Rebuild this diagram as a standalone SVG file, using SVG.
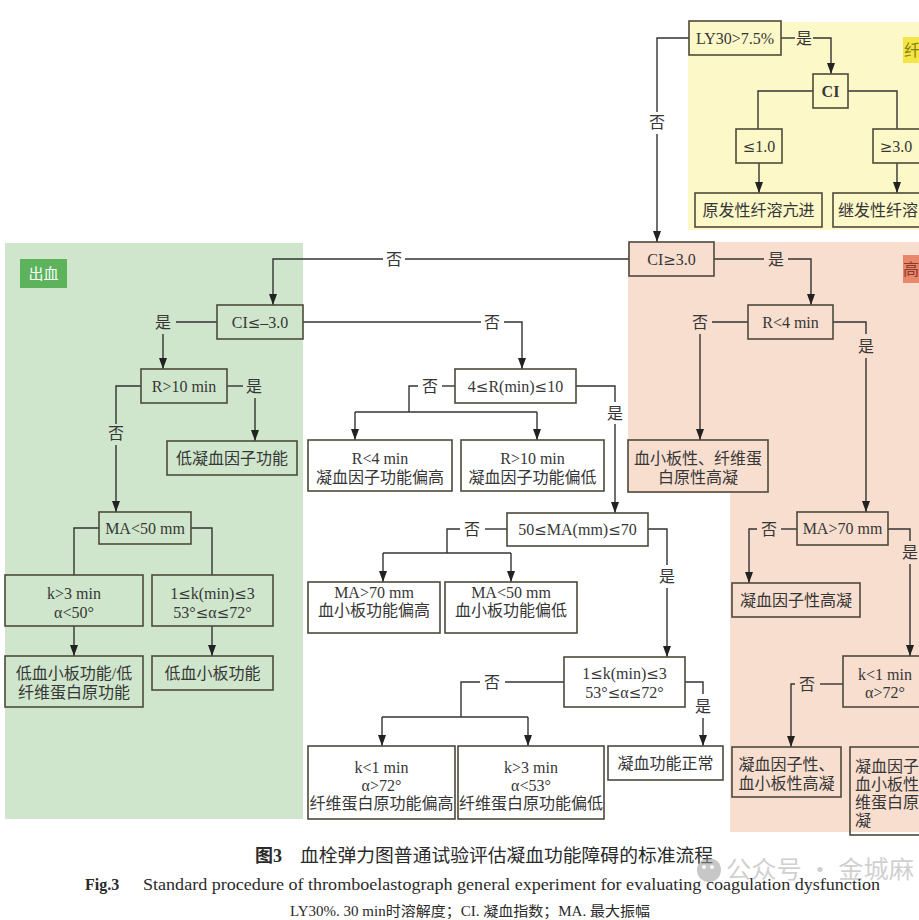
<svg xmlns="http://www.w3.org/2000/svg" width="919" height="920" viewBox="0 0 919 920">
<defs>
<marker id="arr" viewBox="0 0 11 8" refX="11" refY="4" markerWidth="11" markerHeight="8" markerUnits="userSpaceOnUse" orient="auto"><path d="M0,0 L11,4 L0,8 z" fill="#222"/></marker>
<style>
.box{fill:none;stroke:#4d4a3c;stroke-width:1.6}
.t{font-family:"Liberation Serif","Noto Sans CJK SC",serif;font-size:16px;fill:#363636;text-anchor:middle}
.tl{font-family:"Liberation Serif","Noto Sans CJK SC",serif;font-size:16px;fill:#363636}
.lb{font-family:"Liberation Serif","Noto Sans CJK SC",serif;font-size:16px;fill:#363636;text-anchor:middle}
.m{font-family:"DejaVu Serif",serif;font-size:15px}
.c{fill:none;stroke:#333;stroke-width:1.4}
.a{marker-end:url(#arr)}
.cap{font-family:"Liberation Serif","Noto Sans CJK SC",serif;fill:#2a2a2a}
</style>
</defs>
<rect width="919" height="920" fill="#ffffff"/>
<g id="regions">
<rect x="688" y="22" width="231" height="208" fill="#fcf8c8"/>
<rect x="903" y="37" width="40" height="26" fill="#f3e545"/>
<text x="904" y="56" class="tl" style="fill:#8a7d10">纤</text>
<rect x="5" y="243" width="298" height="576" fill="#cfe6cc"/>
<rect x="20" y="259" width="47" height="29" fill="#5cb35c"/>
<text x="43.5" y="279" class="t" style="fill:#ffffff;font-size:15px">出血</text>
<path d="M628,242 H919 V832 H730 V493 H628 Z" fill="#f8decf"/>
<rect x="903" y="255" width="40" height="28" fill="#e8876c"/>
<text x="903" y="275" class="tl" style="fill:#8a3a28">高</text>
</g>
<g id="connectors">
<path class="c" d="M689,38 H657 V112"/>
<path class="c a" d="M657,134 V242"/>
<path class="c" d="M781,38 H795"/>
<path class="c a" d="M813,38 H831 V74"/>
<path class="c" d="M813,91 H758 V129"/>
<path class="c" d="M848,91 H897 V129"/>
<path class="c a" d="M759,163 V193"/>
<path class="c a" d="M897,163 V193"/>
<path class="c" d="M629,259 H405"/>
<path class="c a" d="M383,259 H273 V305"/>
<path class="c" d="M714,259 H764"/>
<path class="c a" d="M788,259 H811 V305"/>
<path class="c" d="M217,322 H176"/>
<path class="c a" d="M163,334 V369"/>
<path class="c" d="M303,322 H481"/>
<path class="c a" d="M504,322 H522 V369"/>
<path class="c" d="M227,386 H243"/>
<path class="c a" d="M255,398 V441"/>
<path class="c" d="M141,386 H116 V424"/>
<path class="c a" d="M116,445 V512"/>
<path class="c" d="M455,386 H442"/>
<path class="c" d="M418,386 H409 V412"/>
<path class="c" d="M355,412 H537"/>
<path class="c a" d="M355,412 V440"/>
<path class="c a" d="M537,412 V440"/>
<path class="c" d="M576,386 H615 V402"/>
<path class="c a" d="M615,424 V513"/>
<path class="c" d="M748,322 H712"/>
<path class="c a" d="M700,334 V440"/>
<path class="c" d="M833,322 H866 V334"/>
<path class="c a" d="M866,358 V512"/>
<path class="c" d="M507,529 H485"/>
<path class="c" d="M460,529 H447 V553"/>
<path class="c" d="M383,553 H511"/>
<path class="c a" d="M383,553 V582"/>
<path class="c a" d="M511,553 V582"/>
<path class="c" d="M648,529 H667 V565"/>
<path class="c a" d="M667,588 V657"/>
<path class="c" d="M99,528 H74 V575"/>
<path class="c" d="M191,528 H212 V575"/>
<path class="c a" d="M74,626 V656"/>
<path class="c a" d="M212,626 V656"/>
<path class="c" d="M564,682 H505"/>
<path class="c" d="M480,682 H461 V717"/>
<path class="c" d="M382,717 H528"/>
<path class="c a" d="M382,717 V746"/>
<path class="c a" d="M528,717 V746"/>
<path class="c" d="M685,682 H703 V694"/>
<path class="c a" d="M703,718 V746"/>
<path class="c" d="M797,529 H781"/>
<path class="c a" d="M757,529 H749 V583"/>
<path class="c" d="M888,529 H910 V541"/>
<path class="c a" d="M910,564 V656"/>
<path class="c" d="M843,684 H820"/>
<path class="c a" d="M795,684 H791 V747"/>
<text class="lb" x="657" y="128">否</text>
<text class="lb" x="804" y="44">是</text>
<text class="lb" x="394" y="265">否</text>
<text class="lb" x="776" y="265">是</text>
<text class="lb" x="163" y="328">是</text>
<text class="lb" x="492" y="328">否</text>
<text class="lb" x="254" y="392">是</text>
<text class="lb" x="116" y="439">否</text>
<text class="lb" x="430" y="392">否</text>
<text class="lb" x="615" y="419">是</text>
<text class="lb" x="700" y="328">否</text>
<text class="lb" x="866" y="352">是</text>
<text class="lb" x="472" y="535">否</text>
<text class="lb" x="667" y="582">是</text>
<text class="lb" x="492" y="688">否</text>
<text class="lb" x="703" y="712">是</text>
<text class="lb" x="769" y="535">否</text>
<text class="lb" x="910" y="558">是</text>
<text class="lb" x="807" y="690">否</text>
</g>
<g id="n1"><rect class="box" x="689" y="21" width="92" height="34"/><text class="t" x="735" y="43.5">LY30&gt;7.5%</text></g>
<g id="n2"><rect class="box" x="813" y="74" width="35" height="34"/><text class="t" x="830.5" y="96.5" font-weight="bold">CI</text></g>
<g id="n3"><rect class="box" x="736" y="129" width="46" height="34"/><text class="t" x="759" y="151.5"><tspan class="m">≤</tspan>1.0</text></g>
<g id="n4"><rect class="box" x="873" y="129" width="49" height="34"/><text class="t" x="896" y="151.5"><tspan class="m">≥</tspan>3.0</text></g>
<g id="n5"><rect class="box" x="695" y="193" width="127" height="34"/><text class="t" x="758.5" y="215.5">原发性纤溶亢进</text></g>
<g id="n6"><rect class="box" x="833" y="193" width="125" height="34"/><text class="tl" x="838" y="215.5">继发性纤溶</text></g>
<g id="n7"><rect class="box" x="629" y="242" width="85" height="34"/><text class="t" x="671.5" y="264.5">CI<tspan class="m">≥</tspan>3.0</text></g>
<g id="n8"><rect class="box" x="217" y="305" width="86" height="34"/><text class="t" x="260" y="327.5">CI<tspan class="m">≤</tspan>–3.0</text></g>
<g id="n9"><rect class="box" x="141" y="369" width="86" height="34"/><text class="t" x="184" y="391.5">R&gt;10 min</text></g>
<g id="n10"><rect class="box" x="167" y="441" width="130" height="34"/><text class="t" x="232" y="463.5">低凝血因子功能</text></g>
<g id="n11"><rect class="box" x="455" y="369" width="121" height="34"/><text class="t" x="515.5" y="391.5">4<tspan class="m">≤</tspan>R(min)<tspan class="m">≤</tspan>10</text></g>
<g id="n12"><rect class="box" x="308" y="440" width="144" height="51"/><text class="t" x="380" y="463.5">R&lt;4 min</text><text class="t" x="380" y="482.5">凝血因子功能偏高</text></g>
<g id="n13"><rect class="box" x="461" y="440" width="143" height="51"/><text class="t" x="532.5" y="463.5">R&gt;10 min</text><text class="t" x="532.5" y="482.5">凝血因子功能偏低</text></g>
<g id="n14"><rect class="box" x="748" y="305" width="85" height="34"/><text class="t" x="790.5" y="327.5">R&lt;4 min</text></g>
<g id="n15"><rect class="box" x="628" y="440" width="140" height="52"/><text class="t" x="698" y="463.5">血小板性、纤维蛋</text><text class="t" x="698" y="482.5">白原性高凝</text></g>
<g id="n16"><rect class="box" x="507" y="513" width="141" height="33"/><text class="t" x="577.5" y="535">50<tspan class="m">≤</tspan>MA(mm)<tspan class="m">≤</tspan>70</text></g>
<g id="n17"><rect class="box" x="308" y="582" width="132" height="51"/><text class="t" x="374" y="598">MA&gt;70 mm</text><text class="t" x="374" y="616">血小板功能偏高</text></g>
<g id="n18"><rect class="box" x="445" y="582" width="132" height="51"/><text class="t" x="511" y="598">MA&lt;50 mm</text><text class="t" x="511" y="616">血小板功能偏低</text></g>
<g id="n19"><rect class="box" x="797" y="512" width="91" height="33"/><text class="t" x="842.5" y="534">MA&gt;70 mm</text></g>
<g id="n20"><rect class="box" x="732" y="583" width="128" height="34"/><text class="t" x="796" y="605.5">凝血因子性高凝</text></g>
<g id="n21"><rect class="box" x="843" y="656" width="84" height="51"/><text class="t" x="885" y="679.5">k&lt;1 min</text><text class="t" x="885" y="697.5">α&gt;72°</text></g>
<g id="n22"><rect class="box" x="732" y="747" width="109" height="50"/><text class="t" x="786.5" y="769.5">凝血因子性、</text><text class="t" x="786.5" y="788.5">血小板性高凝</text></g>
<g id="n23"><rect class="box" x="850" y="747" width="100" height="88"/><text class="tl" x="855" y="772">凝血因子</text><text class="tl" x="855" y="790">血小板性</text><text class="tl" x="855" y="808">维蛋白原</text><text class="tl" x="855" y="826">凝</text></g>
<g id="n24"><rect class="box" x="99" y="512" width="92" height="32"/><text class="t" x="145" y="533.5">MA&lt;50 mm</text></g>
<g id="n25"><rect class="box" x="5" y="575" width="138" height="51"/><text class="t" x="74" y="598.5">k&gt;3 min</text><text class="t" x="74" y="617.5">α&lt;50°</text></g>
<g id="n26"><rect class="box" x="152" y="575" width="121" height="51"/><text class="t" x="212.5" y="598.5">1<tspan class="m">≤</tspan>k(min)<tspan class="m">≤</tspan>3</text><text class="t" x="212.5" y="617.5">53°<tspan class="m">≤</tspan>α<tspan class="m">≤</tspan>72°</text></g>
<g id="n27"><rect class="box" x="5" y="656" width="138" height="51"/><text class="t" x="74" y="678.5">低血小板功能/低</text><text class="t" x="74" y="697.5">纤维蛋白原功能</text></g>
<g id="n28"><rect class="box" x="152" y="656" width="121" height="34"/><text class="t" x="212.5" y="678.5">低血小板功能</text></g>
<g id="n29"><rect class="box" x="564" y="657" width="121" height="50"/><text class="t" x="624.5" y="678.5">1<tspan class="m">≤</tspan>k(min)<tspan class="m">≤</tspan>3</text><text class="t" x="624.5" y="697.5">53°<tspan class="m">≤</tspan>α<tspan class="m">≤</tspan>72°</text></g>
<g id="n30"><rect class="box" x="308" y="746" width="147" height="73"/><text class="t" x="381.5" y="772.5">k&lt;1 min</text><text class="t" x="381.5" y="790.5">α&gt;72°</text><text class="t" x="381.5" y="808.5">纤维蛋白原功能偏高</text></g>
<g id="n31"><rect class="box" x="458" y="746" width="146" height="73"/><text class="t" x="531" y="772.5">k&gt;3 min</text><text class="t" x="531" y="790.5">α&lt;53°</text><text class="t" x="531" y="808.5">纤维蛋白原功能偏低</text></g>
<g id="n32"><rect class="box" x="608" y="746" width="115" height="34"/><text class="t" x="665.5" y="768.5">凝血功能正常</text></g>
<g id="caption">
<text class="cap" x="255" y="862" font-size="18" font-weight="bold">图3</text>
<text class="cap" x="300" y="862" font-size="18.5" textLength="413" lengthAdjust="spacingAndGlyphs">血栓弹力图普通试验评估凝血功能障碍的标准流程</text>
<g opacity="0.55"><circle cx="709" cy="870" r="12" fill="#9a9a9a"/><circle cx="704" cy="867" r="2" fill="#fff"/><circle cx="712" cy="867" r="2" fill="#fff"/></g>
<text x="726" y="878" font-family="'Noto Sans CJK SC',sans-serif" font-size="24" fill="#c4c4c4" fill-opacity="0.8" textLength="188" lengthAdjust="spacingAndGlyphs">公众号 · 金城麻</text>
<text class="cap" x="85" y="890" font-size="16" font-weight="bold">Fig.3</text>
<text class="cap" x="143" y="890" font-size="16" textLength="737" lengthAdjust="spacingAndGlyphs">Standard procedure of thromboelastograph general experiment for evaluating coagulation dysfunction</text>
<text class="cap" x="290" y="916" font-size="14" textLength="360" lengthAdjust="spacingAndGlyphs">LY30%. 30 min时溶解度；CI. 凝血指数；MA. 最大振幅</text>
</g>
</svg>
